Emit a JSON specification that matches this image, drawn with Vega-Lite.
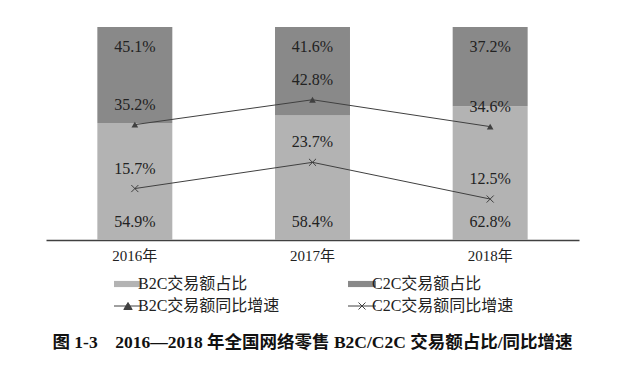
{
  "$schema": "https://vega.github.io/schema/vega-lite/v6.json",
  "width": 533,
  "height": 213,
  "autosize": "none",
  "padding": {"left": 46, "top": 27, "right": 44, "bottom": 125},
  "config": {
    "view": {"stroke": null},
    "font": "Liberation Serif, Noto Sans CJK SC",
    "text": {"font": "Liberation Serif, Noto Sans CJK SC", "fontSize": 16, "color": "#222222", "baseline": "middle"}
  },
  "title": {
    "text": "图 1-3　2016—2018 年全国网络零售 B2C/C2C 交易额占比/同比增速",
    "orient": "bottom",
    "anchor": "middle",
    "font": "Liberation Serif, Noto Sans CJK SC",
    "fontSize": 17.5,
    "fontWeight": "bold",
    "color": "#111111",
    "offset": 20
  },
  "datasets": {
    "share": [
      {"year": "2016年", "type": "B2C交易额占比", "value": 0.549},
      {"year": "2016年", "type": "C2C交易额占比", "value": 0.451},
      {"year": "2017年", "type": "B2C交易额占比", "value": 0.584},
      {"year": "2017年", "type": "C2C交易额占比", "value": 0.416},
      {"year": "2018年", "type": "B2C交易额占比", "value": 0.628},
      {"year": "2018年", "type": "C2C交易额占比", "value": 0.372}
    ],
    "growth": [
      {"year": "2016年", "type": "B2C交易额同比增速", "value": 0.352},
      {"year": "2017年", "type": "B2C交易额同比增速", "value": 0.428},
      {"year": "2018年", "type": "B2C交易额同比增速", "value": 0.346},
      {"year": "2016年", "type": "C2C交易额同比增速", "value": 0.157},
      {"year": "2017年", "type": "C2C交易额同比增速", "value": 0.237},
      {"year": "2018年", "type": "C2C交易额同比增速", "value": 0.125}
    ]
  },
  "encoding": {
    "x": {
      "field": "year",
      "type": "nominal",
      "scale": {"paddingInner": 0.578, "paddingOuter": 0.289},
      "axis": {
        "title": null,
        "labelAngle": 0,
        "ticks": false,
        "labelPadding": 8,
        "labelFont": "Liberation Serif, Noto Sans CJK SC",
        "labelFontSize": 15,
        "labelColor": "#222222",
        "domainColor": "#404040",
        "domainWidth": 1.5,
        "grid": false
      }
    }
  },
  "layer": [
    {
      "data": {"name": "share"},
      "layer": [
        {
          "mark": {"type": "bar"},
          "encoding": {
            "y": {"field": "value", "type": "quantitative", "stack": "zero", "scale": {"domain": [0, 1]}, "axis": null},
            "order": {"field": "type", "sort": "ascending"},
            "color": {
              "field": "type",
              "type": "nominal",
              "scale": {
                "domain": ["B2C交易额占比", "B2C交易额同比增速", "C2C交易额占比", "C2C交易额同比增速"],
                "range": ["#b3b3b3", "#404040", "#898989", "#404040"]
              },
              "legend": {
                "title": null,
                "orient": "none",
                "legendX": 74,
                "legendY": 249,
                "columns": 2,
                "columnPadding": 66,
                "rowPadding": 6,
                "padding": 0,
                "symbolSize": 784,
                "labelFont": "Liberation Serif, Noto Sans CJK SC",
                "labelFontSize": 16,
                "labelColor": "#222222",
                "labelOffset": 2,
                "labelLimit": 300,
                "encode": {
                  "symbols": {
                    "update": {
                      "shape": {"signal": "indexof(['B2C交易额占比','C2C交易额占比'], datum.value) >= 0 ? 'M-1,-0.22H1V0.22H-1Z' : (datum.value == 'B2C交易额同比增速' ? 'M-1,0H1M-0.3,0.25L0,-0.25L0.3,0.25Z' : 'M-1,0H1M-0.25,-0.25L0.25,0.25M-0.25,0.25L0.25,-0.25')"},
                      "fill": {"scale": "color", "field": "value"},
                      "fillOpacity": {"value": 1},
                      "opacity": {"value": 1},
                      "stroke": {"value": "#404040"},
                      "strokeWidth": {"signal": "indexof(['B2C交易额占比','C2C交易额占比'], datum.value) >= 0 ? 0 : 1"}
                    }
                  }
                }
              }
            }
          }
        },
        {
          "transform": [{"filter": "datum.type == 'C2C交易额占比'"}],
          "mark": {"type": "text", "dy": 20},
          "encoding": {
            "y": {"datum": 1, "type": "quantitative"},
            "text": {"field": "value", "type": "quantitative", "format": ".1%"}
          }
        },
        {
          "transform": [{"filter": "datum.type == 'B2C交易额占比'"}],
          "mark": {"type": "text", "dy": -18},
          "encoding": {
            "y": {"datum": 0, "type": "quantitative"},
            "text": {"field": "value", "type": "quantitative", "format": ".1%"}
          }
        }
      ]
    },
    {
      "data": {"name": "growth"},
      "encoding": {
        "y": {"field": "value", "type": "quantitative", "scale": {"domain": [0, 0.65], "nice": false, "zero": true}, "axis": null}
      },
      "layer": [
        {
          "mark": {"type": "line", "strokeWidth": 1},
          "encoding": {
            "color": {"field": "type", "type": "nominal"},
            "detail": {"field": "type"}
          }
        },
        {
          "transform": [{"filter": "datum.type == 'B2C交易额同比增速'"}],
          "mark": {"type": "point", "shape": "triangle-up", "filled": true, "size": 45, "color": "#404040", "opacity": 1}
        },
        {
          "transform": [{"filter": "datum.type == 'C2C交易额同比增速'"}],
          "mark": {"type": "point", "shape": "M-1,-1L1,1M-1,1L1,-1", "filled": false, "size": 50, "color": "#404040", "strokeWidth": 1, "opacity": 1}
        },
        {
          "mark": {"type": "text", "dy": -20},
          "encoding": {
            "text": {"field": "value", "type": "quantitative", "format": ".1%"}
          }
        }
      ]
    }
  ],
  "resolve": {"scale": {"y": "independent"}}
}
